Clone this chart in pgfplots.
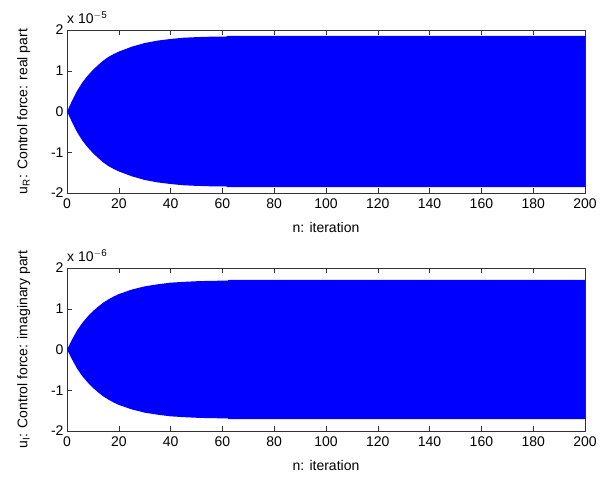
\documentclass[border=0pt]{standalone}
\usepackage{fontspec}
\setmainfont{Liberation Sans}
\usepackage{pgfplots}
\pgfplotsset{compat=1.18}

\pgfplotsset{
  mlab/.style={
    scale only axis,
    width=518pt, height=163pt,
    xmin=0, xmax=200, ymin=-2, ymax=2,
    xtick={0,20,...,200}, ytick={-2,-1,0,1,2},
    tick align=inside,
    major tick length=5pt,
    axis line style={black!80},
    every tick/.style={black!80},
    tick label style={font=\fontsize{14}{16}\selectfont},
    label style={font=\fontsize{14}{16}\selectfont},
    xticklabel style={yshift=-2pt},
    /pgf/number format/assume math mode=true,
    xlabel={n: iteration},
    xlabel style={at={(rel axis cs:0.5,-0.245)}, anchor=base},
    ylabel style={at={(rel axis cs:-0.064,0.5)}, anchor=south},
    clip=false,
  },
}

\begin{document}
\begin{tikzpicture}[x=1pt,y=1pt]
\useasboundingbox (0,0) rectangle (614,477);

% real part
\begin{axis}[mlab, at={(67pt,284pt)}, anchor=south west,
  ylabel={u$_\mathrm{R}$: Control force: real part}]
  \addplot[fill=blue, draw=none] coordinates {
    (0,0) (2,0.27) (4,0.52) (6,0.72) (8,0.88) (10,1.02) (12,1.14) (14,1.25)
    (16,1.34) (18,1.41) (20,1.47) (25,1.59) (30,1.68) (35,1.74) (40,1.78)
    (45,1.81) (50,1.825) (55,1.835) (61.5,1.84) (62,1.855) (200,1.855)
    (200,-1.855) (62,-1.855) (61.5,-1.84) (55,-1.835) (50,-1.825) (45,-1.81)
    (40,-1.78) (35,-1.74) (30,-1.68) (25,-1.59) (20,-1.47) (18,-1.41)
    (16,-1.34) (14,-1.25) (12,-1.14) (10,-1.02) (8,-0.88) (6,-0.72)
    (4,-0.52) (2,-0.27) (0,0)
  } -- cycle;
  \node[anchor=south west, inner sep=0pt, font=\fontsize{14}{16}\selectfont]
    at (rel axis cs:0,1) [yshift=6pt] {x 10$^{\mathrm{-5}}$};
\end{axis}

% imaginary part
\begin{axis}[mlab, at={(67pt,46pt)}, anchor=south west,
  ylabel={u$_\mathrm{I}$: Control force: imaginary part}]
  \addplot[fill=blue, draw=none] coordinates {
    (0,0) (2,0.25) (4,0.48) (6,0.66) (8,0.81) (10,0.94) (12,1.05) (14,1.15)
    (16,1.23) (18,1.30) (20,1.36) (25,1.47) (30,1.55) (35,1.60) (40,1.64)
    (45,1.66) (50,1.675) (55,1.685) (62,1.69) (62.5,1.71) (200,1.71)
    (200,-1.71) (62.5,-1.71) (62,-1.69) (55,-1.685) (50,-1.675) (45,-1.66)
    (40,-1.64) (35,-1.60) (30,-1.55) (25,-1.47) (20,-1.36) (18,-1.30)
    (16,-1.23) (14,-1.15) (12,-1.05) (10,-0.94) (8,-0.81) (6,-0.66)
    (4,-0.48) (2,-0.25) (0,0)
  } -- cycle;
  \node[anchor=south west, inner sep=0pt, font=\fontsize{14}{16}\selectfont]
    at (rel axis cs:0,1) [yshift=6pt] {x 10$^{\mathrm{-6}}$};
\end{axis}
\end{tikzpicture}
\end{document}
